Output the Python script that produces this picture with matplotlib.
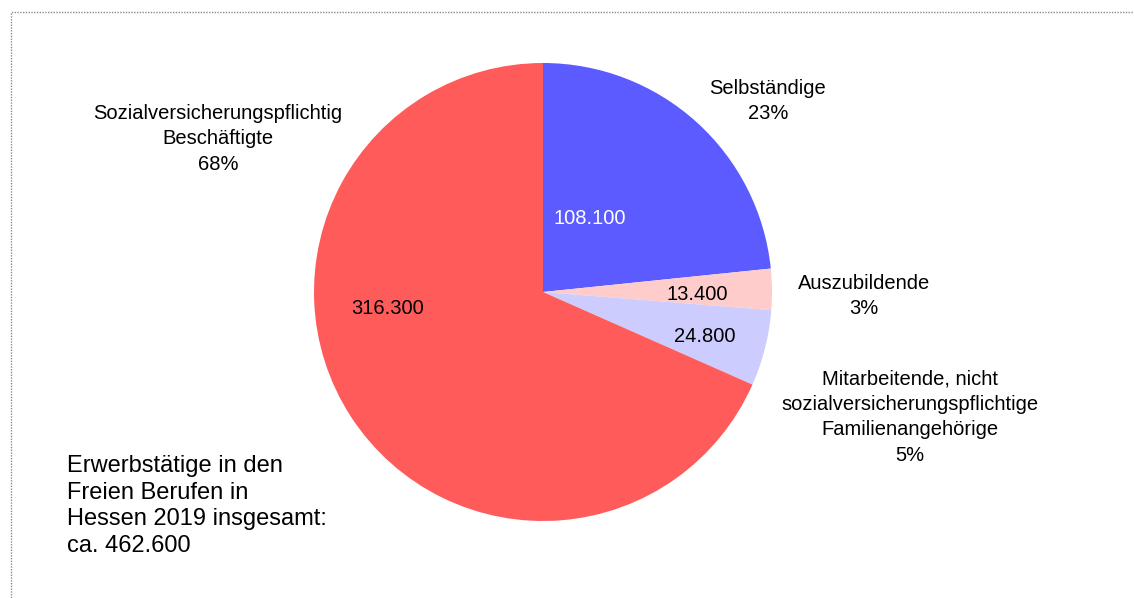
import matplotlib
matplotlib.use("Agg")
import matplotlib.pyplot as plt
from matplotlib.patches import Rectangle

# Erwerbstätige in den Freien Berufen, Hessen 2019
categories = ["Selbständige", "Auszubildende",
              "Mitarbeitende, nicht\nsozialversicherungspflichtige\nFamilienangehörige",
              "Sozialversicherungspflichtig\nBeschäftigte"]
values = [108.1, 13.4, 24.8, 316.3]   # in Tausend
value_labels = ["108.100", "13.400", "24.800", "316.300"]
total_label = "ca. 462.600"

colors = ["#5b5bff", "#ffcccc", "#ccccff", "#ff5b5b"]
value_colors = ["white", "black", "black", "black"]

W, H = 1134, 598
fig = plt.figure(figsize=(W / 100, H / 100), dpi=100)
ax = fig.add_axes([0, 0, 1, 1])

cx, cy, r = 543, H - 292, 229
ax.pie(values, colors=colors, startangle=90, counterclock=False,
       center=(cx, cy), radius=r, frame=True,
       wedgeprops=dict(linewidth=0))
ax.set_xlim(0, W)
ax.set_ylim(0, H)
ax.set_aspect("equal")
ax.axis("off")

# label positions (pixel layout)
value_pos = [(590, 218), (697, 295), (705, 336), (388, 309)]
name_pos = [(768, 101), (864, 296), (910, 417), (218, 139)]
font = "Liberation Sans"

total = sum(values)
for lab, c, (x, y) in zip(value_labels, value_colors, value_pos):
    ax.text(x, H - y, lab, ha="center", va="center", color=c,
            fontsize=14.5, family=font)

for name, v, (x, y) in zip(categories, values, name_pos):
    pct = round(v / total * 100)
    ax.text(x, H - y, f"{name}\n{pct}%", ha="center", va="center",
            fontsize=14.5, family=font, linespacing=1.43)

ax.text(67, H - 506, "Erwerbstätige in den\nFreien Berufen in\nHessen 2019 insgesamt:\n" + total_label,
        ha="left", va="center", fontsize=17, family=font, linespacing=1.26)

# dotted chart frame
fig.patches.append(Rectangle((11 / W, -0.1), 1.1, (H - 12) / H + 0.1,
                             transform=fig.transFigure, fill=False,
                             edgecolor="#8c8c8c", linestyle=(0, (1, 1)), linewidth=1))

fig.savefig("out.png", dpi=100)
